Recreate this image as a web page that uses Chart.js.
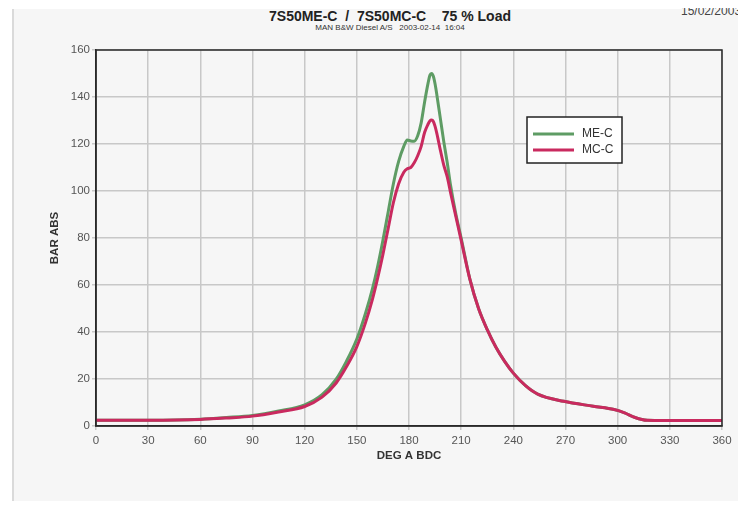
<!DOCTYPE html>
<html>
<head>
<meta charset="utf-8">
<title>7S50ME-C / 7S50MC-C 75 % Load</title>
<script src="https://cdn.jsdelivr.net/npm/chart.js@4/dist/chart.umd.min.js"></script>
<style>
  html, body { margin: 0; padding: 0; background: #ffffff; }
  body { width: 738px; height: 506px; position: relative; overflow: hidden; font-family: "Liberation Sans", Arial, sans-serif; }
  #panel { position: absolute; left: 12px; top: 9px; width: 724px; height: 492px; background: #f6f6f6; border-left: 2px solid #dadada; }
  #title { position: absolute; left: 190px; width: 400px; top: 8px; text-align: center; font-weight: bold; font-size: 14px; line-height: 16px; color: #222; white-space: pre; }
  #subtitle { position: absolute; left: 240px; width: 300px; top: 23px; text-align: center; font-size: 8px; line-height: 9px; color: #333; white-space: pre; }
  #dateClip { position: absolute; left: 681px; top: 8px; width: 57px; height: 10px; overflow: hidden; }
  #date { position: relative; top: -4px; font-size: 12px; line-height: 14px; color: #444; white-space: pre; }
  #plot { position: absolute; left: 0; top: 0; }
</style>
</head>
<body>
<div id="panel"></div>
<div id="title">7S50ME-C  /  7S50MC-C    75 % Load</div>
<div id="subtitle">MAN B&amp;W Diesel A/S   2003-02-14  16:04</div>
<div id="dateClip"><div id="date">15/02/2003</div></div>
<canvas id="plot" width="738" height="506"></canvas>
<script>
// Cylinder pressure vs crank angle (degrees after bottom dead centre)
const crankAngle = [0, 30, 60, 75, 90, 105, 120, 130, 138, 144, 150, 155, 159, 162, 165, 168, 171, 174, 177, 179, 181, 183, 185, 187, 189, 191, 192, 193, 194, 195, 196, 198, 200, 202, 204, 207, 210, 215, 220, 225, 230, 235, 240, 247, 254, 269, 286, 298, 304, 310, 317, 327, 360];

const pressureMEC = [2.5, 2.5, 2.9, 3.6, 4.5, 6.4, 9.0, 13.3, 19.8, 27.5, 37, 48, 58.5, 68, 79, 91, 103, 112.5, 119, 121.7, 121.3, 121.2, 123.5, 129, 138, 146, 149.2, 150, 148.8, 145.5, 141, 131, 121, 112, 102, 90, 80, 62.5, 50, 41, 33.5, 27.5, 22.5, 17.2, 13.6, 10.5, 8.4, 7, 5.6, 3.6, 2.4, 2.3, 2.3];

const pressureMCC = [2.5, 2.5, 2.8, 3.4, 4.2, 6.0, 8.3, 12.3, 18.2, 25.2, 33.8, 44, 54, 63, 73, 84, 95, 103, 108, 109.5, 110, 112, 115, 119, 125, 128.5, 129.8, 130.2, 129.6, 127.5, 124.5, 117.5, 111, 106, 99, 89, 79, 62.5, 50, 41, 33.5, 27.5, 22.5, 17.2, 13.6, 10.5, 8.4, 7, 5.6, 3.6, 2.4, 2.3, 2.3];

const seriesNames = ['ME-C', 'MC-C'];
const seriesColors = ['#5e9c64', '#c92a5f'];

const xTicks = [0, 30, 60, 90, 120, 150, 180, 210, 240, 270, 300, 330, 360];
const yTicks = [0, 20, 40, 60, 80, 100, 120, 140, 160];

const toPoints = (xs, ys) => xs.map((x, i) => ({ x: x, y: ys[i] }));

// Box around the plotting area (top and right edges included)
const framePlugin = {
  id: 'frame',
  afterDatasetsDraw(chart) {
    const a = chart.chartArea, ctx = chart.ctx;
    ctx.save();
    ctx.strokeStyle = '#2a2a2a';
    ctx.lineWidth = 1.5;
    ctx.strokeRect(a.left, a.top, a.right - a.left, a.bottom - a.top);
    ctx.restore();
  }
};

// Boxed legend placed inside the plotting area, upper right
const boxLegendPlugin = {
  id: 'boxLegend',
  afterDraw(chart) {
    const ctx = chart.ctx;
    const a = chart.chartArea;
    const bx = a.left + 431, by = a.top + 67, bw = 95, bh = 46;
    ctx.save();
    ctx.fillStyle = '#ffffff';
    ctx.fillRect(bx, by, bw, bh);
    ctx.strokeStyle = '#222';
    ctx.lineWidth = 1.5;
    ctx.strokeRect(bx, by, bw, bh);
    ctx.font = '12px "Liberation Sans", Arial, sans-serif';
    ctx.textBaseline = 'middle';
    chart.data.datasets.forEach((ds, i) => {
      const y = by + 17 + i * 16;
      ctx.strokeStyle = ds.borderColor;
      ctx.lineWidth = 3;
      ctx.beginPath();
      ctx.moveTo(bx + 6, y);
      ctx.lineTo(bx + 47, y);
      ctx.stroke();
      ctx.fillStyle = '#333';
      ctx.fillText(ds.label, bx + 55, y);
    });
    ctx.restore();
  }
};

const tickFont = { family: '"Liberation Sans", Arial, sans-serif', size: 11.5 };
const titleFont = { family: '"Liberation Sans", Arial, sans-serif', size: 11.5, weight: 'bold' };

new Chart(document.getElementById('plot'), {
  type: 'line',
  data: {
    datasets: [
      {
        label: seriesNames[0],
        data: toPoints(crankAngle, pressureMEC),
        borderColor: seriesColors[0],
        borderWidth: 3,
        pointRadius: 0,
        cubicInterpolationMode: 'monotone',
        order: 1
      },
      {
        label: seriesNames[1],
        data: toPoints(crankAngle, pressureMCC),
        borderColor: seriesColors[1],
        borderWidth: 3,
        pointRadius: 0,
        cubicInterpolationMode: 'monotone',
        order: 0
      }
    ]
  },
  options: {
    responsive: false,
    animation: false,
    devicePixelRatio: 1,
    layout: { padding: { left: 0, top: 50, right: 16, bottom: 0 } },
    plugins: {
      legend: { display: false },
      title: { display: false },
      tooltip: { enabled: false }
    },
    scales: {
      x: {
        type: 'linear',
        min: 0,
        max: 360,
        afterBuildTicks(scale) { scale.ticks = xTicks.map(v => ({ value: v })); },
        afterFit(scale) { scale.height = 80; },
        grid: { color: '#c8c8c8', lineWidth: 1.5, tickLength: 4, drawTicks: true },
        border: { display: true, color: '#2a2a2a', width: 1.5 },
        ticks: { color: '#555', font: tickFont, padding: 4, maxRotation: 0, autoSkip: false },
        title: { display: true, text: 'DEG A BDC', color: '#333', font: titleFont, padding: { top: 0, bottom: 43 } }
      },
      y: {
        type: 'linear',
        min: 0,
        max: 160,
        afterBuildTicks(scale) { scale.ticks = yTicks.map(v => ({ value: v })); },
        afterFit(scale) { scale.width = 96; },
        grid: { color: '#c8c8c8', lineWidth: 1.5, tickLength: 4, drawTicks: true },
        border: { display: true, color: '#2a2a2a', width: 1.5 },
        ticks: { color: '#555', font: tickFont, padding: 2 },
        title: { display: true, text: 'BAR ABS', color: '#333', font: titleFont, padding: { top: 48, bottom: 0 } }
      }
    }
  },
  plugins: [framePlugin, boxLegendPlugin]
});
</script>
</body>
</html>
